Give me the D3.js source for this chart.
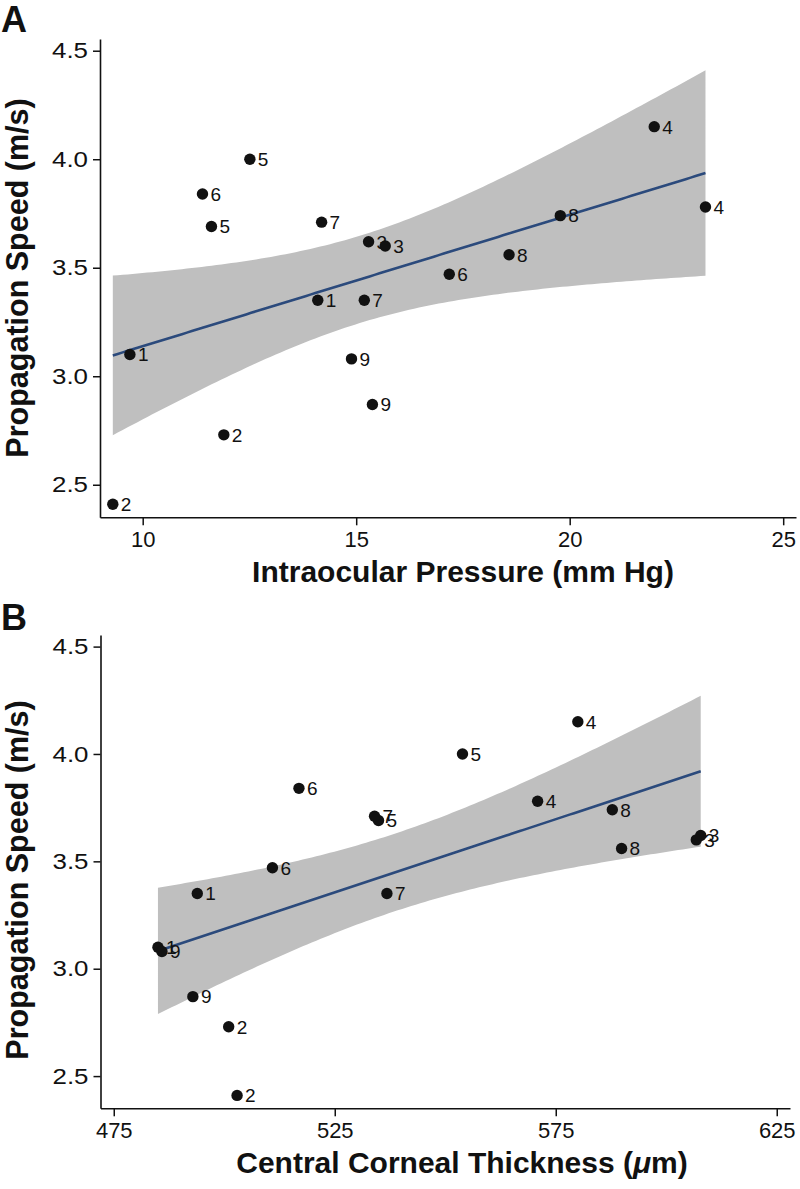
<!DOCTYPE html>
<html>
<head>
<meta charset="utf-8">
<script src="https://cdn.jsdelivr.net/npm/d3@7"></script>
<style>
  html, body { margin: 0; padding: 0; background: #fff; }
  svg { display: block; }
  text { font-family: "Liberation Sans", Arial, Helvetica, sans-serif; }
</style>
</head>
<body>
<script>
// ---------------- data ----------------
const subjects = [1, 1, 2, 2, 3, 3, 4, 4, 5, 5, 6, 6, 7, 7, 8, 8, 9, 9];
const iop   = [9.70, 14.10, 9.30, 11.90, 15.29, 15.68, 21.98, 23.18, 12.51, 11.61, 11.40, 17.18, 14.19, 15.19, 19.78, 18.58, 14.89, 15.38];
const cct   = [485.0, 493.9, 502.9, 501.0, 607.8, 606.8, 580.0, 570.9, 553.9, 534.9, 516.9, 510.9, 534.0, 536.8, 587.8, 589.9, 485.9, 492.9];
const speed = [3.10, 3.35, 2.41, 2.73, 3.62, 3.60, 4.15, 3.78, 4.00, 3.69, 3.84, 3.47, 3.71, 3.35, 3.74, 3.56, 3.08, 2.87];
const speedTicks = [2.5, 3.0, 3.5, 4.0, 4.5];
const iopTicks = [10, 15, 20, 25];
const cctTicks = [475, 525, 575, 625];
const tCrit = 2.1199; // t(0.975, df = 16)

// ---------------- drawing ----------------
const svg = d3.select("body").append("svg").attr("width", 800).attr("height", 1189);

function fit(xs, ys) {
  const n = xs.length, mx = d3.mean(xs), my = d3.mean(ys);
  let sxx = 0, sxy = 0;
  xs.forEach((x, i) => { sxx += (x - mx) ** 2; sxy += (x - mx) * (ys[i] - my); });
  const b = sxy / sxx, a = my - b * mx;
  let ssr = 0;
  xs.forEach((x, i) => { ssr += (ys[i] - (a + b * x)) ** 2; });
  const s = Math.sqrt(ssr / (n - 2));
  const [x0, x1] = d3.extent(xs);
  return d3.range(0, 121).map(k => {
    const x = x0 + (x1 - x0) * k / 120;
    const yh = a + b * x;
    const se = s * Math.sqrt(1 / n + (x - mx) ** 2 / sxx);
    return { x, y: yh, lo: yh - tCrit * se, hi: yh + tCrit * se };
  });
}

function panel(cfg) {
  const g = svg.append("g");
  const x = d3.scaleLinear().domain(cfg.xDomain).range(cfg.xRange);
  const y = d3.scaleLinear().domain([2.35, 4.554]).range(cfg.yRange);
  const pts = fit(cfg.xs, speed);

  g.append("path")
    .datum(pts)
    .attr("fill", "#bfbfbf")
    .attr("d", d3.area().x(d => x(d.x)).y0(d => y(d.lo)).y1(d => y(d.hi)));

  g.append("path")
    .datum(pts)
    .attr("fill", "none")
    .attr("stroke", "#2b4a7c")
    .attr("stroke-width", 2.6)
    .attr("d", d3.line().x(d => x(d.x)).y(d => y(d.y)));

  const data = cfg.xs.map((v, i) => ({ x: v, y: speed[i], s: subjects[i] }));

  g.selectAll("text.lbl").data(data).enter().append("text")
    .attr("class", "lbl")
    .attr("x", d => x(d.x) + 8)
    .attr("y", d => y(d.y))
    .attr("dy", "0.36em")
    .attr("font-size", 19)
    .attr("fill", "#111")
    .text(d => d.s);

  g.selectAll("circle").data(data).enter().append("circle")
    .attr("cx", d => x(d.x))
    .attr("cy", d => y(d.y))
    .attr("r", 5.7)
    .attr("fill", "#111");

  const yAxis = g.append("g")
    .attr("transform", `translate(${cfg.xRange[0]},0)`)
    .call(d3.axisLeft(y).tickValues(speedTicks).tickFormat(d3.format(".1f"))
      .tickSize(7).tickSizeOuter(0).tickPadding(5));
  yAxis.selectAll("text").attr("font-size", 22).attr("fill", "#111")
    .attr("textLength", 36).attr("lengthAdjust", "spacingAndGlyphs");

  const xAxis = g.append("g")
    .attr("transform", `translate(0,${cfg.yRange[0]})`)
    .call(d3.axisBottom(x).tickValues(cfg.xTicks).tickSize(8).tickSizeOuter(0).tickPadding(6));
  xAxis.selectAll("text").attr("font-size", 22).attr("fill", "#111");

  [yAxis, xAxis].forEach(a => {
    a.selectAll("path, line").attr("stroke", "#111").attr("stroke-width", 1.5);
    a.select(".domain").attr("stroke-width", 1.6);
  });

  // y title
  g.append("text")
    .attr("transform", `translate(28,${cfg.yTitleCenter}) rotate(-90)`)
    .attr("text-anchor", "middle")
    .attr("font-size", 30.5)
    .attr("font-weight", "bold")
    .attr("fill", "#111")
    .text("Propagation Speed (m/s)");

  // x title
  const xt = g.append("text")
    .attr("x", cfg.xTitleCenter)
    .attr("y", cfg.yRange[0] + 64.4)
    .attr("text-anchor", "middle")
    .attr("font-size", 30)
    .attr("font-weight", "bold")
    .attr("fill", "#111");
  cfg.xTitle.forEach(part => {
    xt.append("tspan").attr("font-style", part.italic ? "italic" : "normal").text(part.t);
  });

  // panel letter
  g.append("text")
    .attr("x", 1)
    .attr("y", cfg.letterY)
    .attr("font-size", 36)
    .attr("font-weight", "bold")
    .attr("fill", "#111")
    .text(cfg.letter);
}

panel({
  xs: iop, xDomain: [9.0, 25.3], xRange: [100, 796], yRange: [517.3, 39],
  xTicks: iopTicks,
  xTitle: [{ t: "Intraocular Pressure (mm Hg)" }],
  xTitleCenter: 463, yTitleCenter: 278, letter: "A", letterY: 32
});

panel({
  xs: cct, xDomain: [472, 628], xRange: [100.5, 790], yRange: [1108.3, 635],
  xTicks: cctTicks,
  xTitle: [{ t: "Central Corneal Thickness (" }, { t: "\u03BC", italic: true }, { t: "m)" }],
  xTitleCenter: 462, yTitleCenter: 880, letter: "B", letterY: 630
});
</script>
</body>
</html>
